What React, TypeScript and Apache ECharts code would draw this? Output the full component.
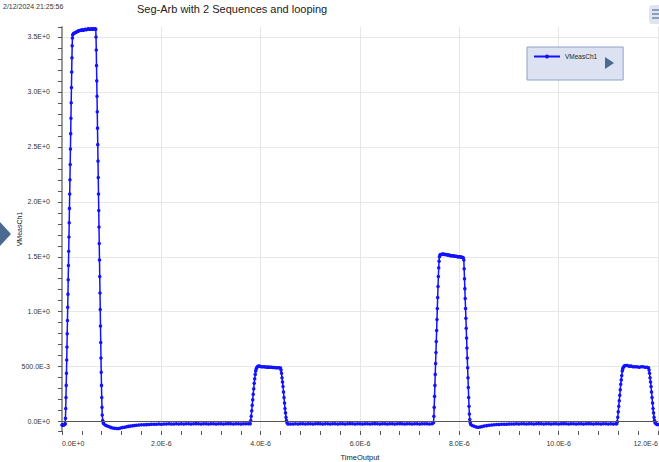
import React, { useEffect, useRef } from "react";
import * as echarts from "echarts";

const FONT = "'Liberation Sans', Arial, sans-serif";
const TITLE = "Seg-Arb with 2 Sequences and looping";
const TIMESTAMP = "2/12/2024 21:25:56";
const SERIES_NAME = "VMeasCh1";
const X_NAME = "TimeOutput";
const Y_NAME = "VMeasCh1";
const BLUE = "#1212ff";

// time in microseconds, value in volts
const start0: [number, number][] = [
  [0.0, -0.03], [0.01, -0.03], [0.02, -0.028], [0.03, -0.03], [0.04, -0.027], [0.05, -0.026], [0.06, -0.022],
];
const pulse1Rise: [number, number][] = [
  [0.065, -0.02], [0.07, 0.03], [0.075, 0.12], [0.08, 0.22], [0.085, 0.33], [0.09, 0.44], [0.095, 0.56],
  [0.1, 0.68], [0.105, 0.8], [0.11, 0.92], [0.115, 1.04], [0.12, 1.16], [0.125, 1.29], [0.13, 1.42],
  [0.135, 1.55], [0.14, 1.68], [0.145, 1.81], [0.15, 1.94], [0.155, 2.07], [0.16, 2.2], [0.165, 2.34],
  [0.17, 2.48], [0.175, 2.62], [0.18, 2.76], [0.185, 2.9], [0.19, 3.04], [0.195, 3.18], [0.2, 3.31],
  [0.205, 3.42], [0.21, 3.49], [0.215, 3.52],
];
const pulse1Top: [number, number][] = [
  [0.23, 3.53], [0.25, 3.535], [0.27, 3.54], [0.29, 3.545], [0.31, 3.55], [0.33, 3.555], [0.35, 3.555],
  [0.37, 3.56], [0.39, 3.56], [0.41, 3.565], [0.43, 3.56], [0.45, 3.565], [0.47, 3.57], [0.49, 3.565],
  [0.51, 3.57], [0.53, 3.575], [0.55, 3.57], [0.57, 3.57], [0.59, 3.575], [0.61, 3.57], [0.63, 3.575],
  [0.65, 3.57], [0.67, 3.575], [0.68, 3.57],
];
const pulse1Fall: [number, number][] = [
  [0.685, 3.5], [0.69, 3.38], [0.695, 3.24], [0.7, 3.1], [0.705, 2.96], [0.71, 2.82], [0.715, 2.67],
  [0.72, 2.52], [0.725, 2.37], [0.73, 2.22], [0.735, 2.07], [0.74, 1.92], [0.745, 1.77], [0.75, 1.62],
  [0.755, 1.47], [0.76, 1.32], [0.765, 1.17], [0.77, 1.02], [0.775, 0.87], [0.78, 0.72], [0.785, 0.58],
  [0.79, 0.45], [0.795, 0.33], [0.8, 0.22], [0.805, 0.13], [0.81, 0.06], [0.82, 0.01], [0.83, -0.01],
];
const dip1: [number, number][] = [
  [0.84, -0.02], [0.87, -0.03], [0.9, -0.038], [0.94, -0.045], [0.98, -0.052], [1.02, -0.057], [1.06, -0.06],
  [1.1, -0.062], [1.14, -0.062], [1.18, -0.058], [1.22, -0.054], [1.26, -0.05], [1.3, -0.046], [1.34, -0.043],
  [1.38, -0.04], [1.42, -0.037], [1.46, -0.035], [1.5, -0.033], [1.55, -0.031], [1.6, -0.029], [1.65, -0.028],
  [1.7, -0.027], [1.75, -0.026],
];
const base1Start = 1.8;
const base1Step = 0.05;
const base1: number[] = [
  -0.024, -0.023, -0.024, -0.022, -0.023, -0.021, -0.022, -0.02, -0.022, -0.021,
  -0.019, -0.021, -0.02, -0.022, -0.02, -0.019, -0.021, -0.02, -0.018, -0.02,
  -0.021, -0.019, -0.02, -0.022, -0.02, -0.019, -0.021, -0.02, -0.019, -0.021,
  -0.02, -0.018, -0.02, -0.021, -0.019, -0.02, -0.021, -0.02, -0.019, -0.02,
];
const pulse2Rise: [number, number][] = [
  [3.79, -0.02], [3.8, 0.01], [3.81, 0.05], [3.82, 0.1], [3.83, 0.15], [3.84, 0.2], [3.85, 0.25],
  [3.86, 0.3], [3.87, 0.35], [3.88, 0.39], [3.89, 0.43], [3.9, 0.46], [3.91, 0.48], [3.92, 0.49], [3.935, 0.5],
];
const pulse2Top: [number, number][] = [
  [3.95, 0.505], [3.98, 0.505], [4.01, 0.5], [4.04, 0.5], [4.07, 0.5], [4.1, 0.498], [4.13, 0.496],
  [4.16, 0.496], [4.19, 0.495], [4.22, 0.494], [4.25, 0.493], [4.28, 0.492], [4.31, 0.491], [4.34, 0.49],
  [4.37, 0.49], [4.4, 0.488],
];
const pulse2Fall: [number, number][] = [
  [4.41, 0.47], [4.42, 0.44], [4.43, 0.4], [4.44, 0.36], [4.45, 0.32], [4.46, 0.27], [4.47, 0.22],
  [4.48, 0.17], [4.49, 0.12], [4.5, 0.08], [4.51, 0.04], [4.52, 0.01], [4.53, -0.01], [4.55, -0.022],
];
const base2Start = 4.6;
const base2Step = 0.05;
const base2: number[] = [
  -0.022, -0.021, -0.02, -0.021, -0.019, -0.02, -0.022, -0.02, -0.019, -0.021,
  -0.02, -0.018, -0.02, -0.021, -0.019, -0.02, -0.022, -0.02, -0.019, -0.021,
  -0.02, -0.019, -0.021, -0.02, -0.018, -0.02, -0.021, -0.019, -0.02, -0.022,
  -0.02, -0.019, -0.021, -0.02, -0.018, -0.02, -0.021, -0.019, -0.02, -0.021,
  -0.02, -0.019, -0.021, -0.02, -0.018, -0.02, -0.021, -0.019, -0.02, -0.022,
  -0.02, -0.019, -0.021, -0.02, -0.019, -0.02, -0.021, -0.02,
];
const pulse3Rise: [number, number][] = [
  [7.48, -0.01], [7.487, 0.05], [7.494, 0.13], [7.501, 0.23], [7.508, 0.33], [7.515, 0.43], [7.522, 0.53],
  [7.529, 0.63], [7.536, 0.73], [7.543, 0.83], [7.55, 0.93], [7.557, 1.03], [7.564, 1.13], [7.571, 1.23],
  [7.578, 1.32], [7.585, 1.4], [7.592, 1.46], [7.6, 1.5], [7.61, 1.515], [7.62, 1.52],
];
const pulse3Top: [number, number][] = [
  [7.64, 1.52], [7.66, 1.525], [7.68, 1.525], [7.7, 1.52], [7.72, 1.52], [7.74, 1.52], [7.76, 1.515],
  [7.78, 1.515], [7.8, 1.515], [7.82, 1.51], [7.84, 1.51], [7.86, 1.51], [7.88, 1.51], [7.9, 1.505],
  [7.92, 1.505], [7.94, 1.505], [7.96, 1.5], [7.98, 1.5], [8.0, 1.5], [8.02, 1.5], [8.04, 1.495],
  [8.06, 1.495], [8.08, 1.49],
];
const pulse3Fall: [number, number][] = [
  [8.09, 1.47], [8.097, 1.39], [8.104, 1.3], [8.111, 1.21], [8.118, 1.12], [8.125, 1.03], [8.132, 0.94],
  [8.139, 0.85], [8.146, 0.76], [8.153, 0.67], [8.16, 0.58], [8.167, 0.49], [8.174, 0.4], [8.181, 0.31],
  [8.188, 0.22], [8.195, 0.14], [8.202, 0.07], [8.21, 0.02], [8.22, -0.01], [8.23, -0.025],
];
const dip3: [number, number][] = [
  [8.26, -0.035], [8.3, -0.042], [8.34, -0.048], [8.38, -0.05], [8.42, -0.048], [8.46, -0.045], [8.5, -0.04],
  [8.55, -0.036], [8.6, -0.032], [8.65, -0.03], [8.7, -0.028], [8.75, -0.026], [8.8, -0.025], [8.85, -0.024],
  [8.9, -0.023],
];
const base3Start = 8.95;
const base3Step = 0.05;
const base3: number[] = [
  -0.023, -0.022, -0.021, -0.022, -0.02, -0.021, -0.019, -0.02, -0.022, -0.02,
  -0.019, -0.021, -0.02, -0.018, -0.02, -0.021, -0.019, -0.02, -0.022, -0.02,
  -0.019, -0.021, -0.02, -0.018, -0.02, -0.021, -0.019, -0.02, -0.021, -0.02,
  -0.019, -0.021, -0.02, -0.018, -0.02, -0.021, -0.019, -0.02, -0.022, -0.02,
  -0.019, -0.021, -0.02, -0.021, -0.02,
];
const pulse4Rise: [number, number][] = [
  [11.17, -0.02], [11.18, 0.0], [11.19, 0.04], [11.2, 0.09], [11.21, 0.14], [11.22, 0.19], [11.23, 0.24],
  [11.24, 0.29], [11.25, 0.34], [11.26, 0.38], [11.27, 0.42], [11.28, 0.46], [11.29, 0.48], [11.3, 0.495],
  [11.32, 0.505],
];
const pulse4Top: [number, number][] = [
  [11.34, 0.51], [11.38, 0.51], [11.42, 0.505], [11.46, 0.505], [11.5, 0.5], [11.54, 0.5], [11.58, 0.5],
  [11.62, 0.495], [11.66, 0.5], [11.7, 0.5], [11.74, 0.495], [11.78, 0.495], [11.81, 0.49],
];
const pulse4Fall: [number, number][] = [
  [11.82, 0.47], [11.83, 0.44], [11.84, 0.4], [11.85, 0.36], [11.86, 0.32], [11.87, 0.27], [11.88, 0.22],
  [11.89, 0.17], [11.9, 0.12], [11.91, 0.08], [11.92, 0.04], [11.93, 0.01], [11.94, -0.01], [11.96, -0.02],
  [11.98, -0.025], [12.0, -0.025],
];

const xMin = 0;
const xMax = 12;
const xInterval = 2;
const yMin = -0.085;
const yMax = 3.59;

function expand(start: number, step: number, values: number[]): [number, number][] {
  return values.map((v, i) => [Math.round((start + i * step) * 10000) / 10000, v]);
}

function fmtX(v: number): string {
  if (Math.abs(v) < 1e-9) return "0.0E+0";
  return v.toFixed(1) + "E-6";
}

function fmtY(v: number): string {
  if (Math.abs(v) < 1e-9) return "0.0E+0";
  if (Math.abs(v * 2 - Math.round(v * 2)) > 1e-6) return "";
  if (v > 0 && v < 1) return (v * 1000).toFixed(1) + "E-3";
  return v.toFixed(1) + "E+0";
}

export default function App() {
  const ref = useRef<HTMLDivElement>(null);
  useEffect(() => {
    document.body.style.margin = "0";
    if (!ref.current) return;
    const chart = echarts.init(ref.current, undefined, { renderer: "svg" });
    const data: [number, number][] = [
      ...start0, ...pulse1Rise, ...pulse1Top, ...pulse1Fall, ...dip1,
      ...expand(base1Start, base1Step, base1),
      ...pulse2Rise, ...pulse2Top, ...pulse2Fall,
      ...expand(base2Start, base2Step, base2),
      ...pulse3Rise, ...pulse3Top, ...pulse3Fall, ...dip3,
      ...expand(base3Start, base3Step, base3),
      ...pulse4Rise, ...pulse4Top, ...pulse4Fall,
    ];
    chart.setOption({
      animation: false,
      backgroundColor: "#ffffff",
      textStyle: { fontFamily: FONT },
      title: {
        text: TITLE,
        left: 137,
        top: 3,
        padding: 0,
        textStyle: { fontSize: 11, fontWeight: "normal", color: "#222", fontFamily: FONT },
      },
      legend: {
        left: 527,
        top: 47,
        orient: "vertical",
        backgroundColor: "#dde2f3",
        borderColor: "#8ea2c8",
        borderWidth: 1,
        padding: [6, 26, 20, 6],
        itemWidth: 26,
        itemHeight: 5,
        itemGap: 5,
        textStyle: { fontSize: 6.5, color: "#222", fontFamily: FONT },
        data: [SERIES_NAME],
      },
      grid: { left: 62, right: 1, top: 27, bottom: 31, outerBoundsMode: "none", containLabel: false },
      xAxis: {
        type: "value",
        min: xMin,
        max: xMax,
        interval: xInterval,
        name: X_NAME,
        nameLocation: "middle",
        nameGap: 22,
        nameMoveOverlap: false,
        nameTextStyle: { fontSize: 7.5, color: "#222", fontFamily: FONT },
        axisLine: { show: false, onZero: false },
        axisTick: { show: true, length: 4, lineStyle: { color: "#555" } },
        minorTick: { show: true, splitNumber: 5, length: 4, lineStyle: { color: "#555" } },
        axisLabel: {
          fontSize: 7,
          color: "#333",
          margin: 9,
          formatter: fmtX,
          alignMinLabel: "left",
          alignMaxLabel: "right",
          fontFamily: FONT,
        },
        splitLine: { show: true, showMinLine: false, lineStyle: { color: "#e6e6e6", width: 1 } },
      },
      yAxis: {
        type: "value",
        min: yMin,
        max: yMax,
        splitNumber: 7,
        name: Y_NAME,
        nameLocation: "middle",
        nameGap: 39,
        nameRotate: 90,
        nameMoveOverlap: false,
        nameTextStyle: { fontSize: 7, color: "#222", fontFamily: FONT },
        axisLine: { show: true, onZero: false, lineStyle: { color: "#999", width: 2 } },
        axisTick: { show: true, length: 4, lineStyle: { color: "#555" } },
        minorTick: { show: true, splitNumber: 5, length: 4, lineStyle: { color: "#555" } },
        axisLabel: {
          fontSize: 7,
          color: "#333",
          margin: 12,
          showMinLabel: false,
          showMaxLabel: false,
          formatter: fmtY,
          fontFamily: FONT,
        },
        splitLine: { show: true, showMinLine: false, showMaxLine: false, lineStyle: { color: "#e8e8e8", width: 1 } },
      },
      series: [
        {
          type: "line",
          name: SERIES_NAME,
          data,
          symbol: "circle",
          symbolSize: 3.5,
          legendIcon: "rect",
          showSymbol: true,
          showAllSymbol: true,
          lineStyle: { color: BLUE, width: 1.5 },
          itemStyle: { color: BLUE },
          emphasis: { disabled: true },
          markLine: {
            silent: true,
            symbol: ["none", "none"],
            label: { show: false },
            lineStyle: { color: "#555", width: 1, type: "solid" },
            emphasis: { disabled: true },
            data: [{ yAxis: 0 }],
          },
        },
      ],
      graphic: [
        {
          type: "text",
          left: 3,
          top: 3,
          style: { text: TIMESTAMP, fontSize: 7, fill: "#333", fontFamily: FONT },
        },
        {
          type: "polygon",
          shape: { points: [[0, 222], [11, 234], [0, 246]] },
          style: { fill: "#4a6a92" },
        },
        {
          type: "polygon",
          z: 100,
          shape: { points: [[605, 57], [614, 63], [605, 69]] },
          style: { fill: "#4a6a92" },
        },
        {
          type: "rect",
          z: 100,
          shape: { x: 649, y: 5, width: 14, height: 19, r: 3 },
          style: { fill: "#dfe4f0" },
        },
        {
          type: "line",
          z: 101,
          shape: { x1: 652, y1: 10, x2: 659, y2: 10 },
          style: { stroke: "#6f87ab", lineWidth: 1.5 },
        },
        {
          type: "line",
          z: 101,
          shape: { x1: 652, y1: 14, x2: 659, y2: 14 },
          style: { stroke: "#6f87ab", lineWidth: 1.5 },
        },
        {
          type: "line",
          z: 101,
          shape: { x1: 652, y1: 18, x2: 659, y2: 18 },
          style: { stroke: "#6f87ab", lineWidth: 1.5 },
        },
      ],
    });
    return () => chart.dispose();
  }, []);
  return (
    <div
      ref={ref}
      style={{ position: "fixed", left: 0, top: 0, width: 659, height: 462, background: "#fff" }}
    />
  );
}
